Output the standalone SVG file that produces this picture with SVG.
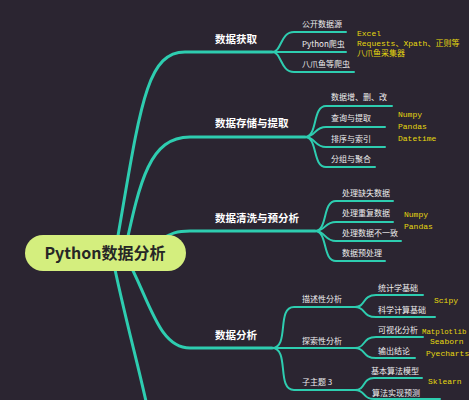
<svg xmlns="http://www.w3.org/2000/svg" width="469" height="400" viewBox="0 0 469 400">
<style>
.main{fill:none;stroke:#2ecdb0;stroke-width:3;stroke-linecap:round}
.sub{fill:none;stroke:#2ecdb0;stroke-width:2;stroke-linecap:round}
.t1{font-family:"Noto Sans CJK SC","Liberation Sans",sans-serif;font-size:10.5px;font-weight:bold;fill:#ffffff}
.t2{font-family:"Noto Sans CJK SC","Liberation Sans",sans-serif;font-size:8px;fill:#eeeeee}
.y{font-family:"Liberation Mono","Noto Sans CJK SC",monospace;font-size:8px;fill:#e6d80f}
.root{font-family:"Noto Sans CJK SC","Liberation Sans",sans-serif;font-size:16px;font-weight:bold;fill:#262626}
</style>
<rect x="0" y="0" width="469" height="400" fill="#2b2531"/>
<g id="connectors">
  <path class="main" d="M115 253 C140 110 145 52 185 52 L272 52"/>
  <path class="main" d="M125 250 C140 180 150 137 190 137 L305 137"/>
  <path class="main" d="M150 245 C170 235 172 231 190 231 L315 231"/>
  <path class="main" d="M125 255 C150 300 158 348 190 348 L272 348"/>
  <path class="main" d="M112 255 C125 320 140 370 150 420"/>
  <path class="sub" d="M272 52 C282 52 280 32 294 32 L346 32"/>
  <path class="sub" d="M272 52 L346 52"/>
  <path class="sub" d="M272 52 C282 52 280 72 294 72 L354 72"/>
  <path class="sub" d="M305 137 C318 137 312 106 326 106 L392 106"/>
  <path class="sub" d="M305 137 C316 137 314 127 326 127 L385 127"/>
  <path class="sub" d="M305 137 C316 137 314 147 326 147 L385 147"/>
  <path class="sub" d="M305 137 C318 137 312 167 326 167 L375 167"/>
  <path class="sub" d="M315 231 C328 231 322 201 336 201 L393 201"/>
  <path class="sub" d="M315 231 C326 231 324 222 336 222 L393 222"/>
  <path class="sub" d="M315 231 C326 231 324 241 336 241 L401 241"/>
  <path class="sub" d="M315 231 C328 231 322 261 336 261 L385 261"/>
  <path class="sub" d="M272 348 C290 348 276 307 294 307 L355 307"/>
  <path class="sub" d="M272 348 L355 348"/>
  <path class="sub" d="M272 348 C290 348 276 390 294 390 L355 390"/>
  <path class="sub" d="M355 307 C366 307 362 295 376 295 L423 295"/>
  <path class="sub" d="M355 307 C366 307 362 317 376 317 L435 317"/>
  <path class="sub" d="M355 348 C366 348 362 337 376 337 L423 337"/>
  <path class="sub" d="M355 348 C366 348 362 358 376 358 L415 358"/>
  <path class="sub" d="M355 390 C366 390 362 378 374 378 L422 378"/>
  <path class="sub" d="M355 390 C366 390 362 399 374 399 L440 399"/>
</g>
<g id="root">
  <rect x="25" y="235" width="161" height="36" rx="18" fill="#d4ee7e"/>
  <text class="root" x="105" y="259" text-anchor="middle">Python数据分析</text>
</g>
<g id="n1"><text class="t1" x="215" y="43">数据获取</text></g>
<g id="n1a"><text class="t2" x="302" y="27">公开数据源</text></g>
<g id="n1b"><text class="t2" x="302" y="47">Python爬虫</text></g>
<g id="n1c"><text class="t2" x="302" y="67">八爪鱼等爬虫</text></g>
<g id="n1y"><text class="y" x="357" y="36">Excel</text><text class="y" x="357" y="46">Requests、Xpath、正则等</text><text class="y" x="357" y="56">八爪鱼采集器</text></g>
<g id="n2"><text class="t1" x="215" y="127">数据存储与提取</text></g>
<g id="n2a"><text class="t2" x="331" y="100">数据增、删、改</text></g>
<g id="n2b"><text class="t2" x="331" y="121">查询与提取</text></g>
<g id="n2c"><text class="t2" x="331" y="142">排序与索引</text></g>
<g id="n2d"><text class="t2" x="331" y="162">分组与聚合</text></g>
<g id="n2y"><text class="y" x="398" y="117">Numpy</text><text class="y" x="398" y="129">Pandas</text><text class="y" x="398" y="141">Datetime</text></g>
<g id="n3"><text class="t1" x="215" y="222">数据清洗与预分析</text></g>
<g id="n3a"><text class="t2" x="342" y="196">处理缺失数据</text></g>
<g id="n3b"><text class="t2" x="342" y="216">处理重复数据</text></g>
<g id="n3c"><text class="t2" x="342" y="236">处理数据不一致</text></g>
<g id="n3d"><text class="t2" x="342" y="256">数据预处理</text></g>
<g id="n3y"><text class="y" x="404" y="217">Numpy</text><text class="y" x="404" y="229">Pandas</text></g>
<g id="n4"><text class="t1" x="215" y="339">数据分析</text></g>
<g id="n4a"><text class="t2" x="302" y="302">描述性分析</text></g>
<g id="n4b"><text class="t2" x="302" y="344">探索性分析</text></g>
<g id="n4c"><text class="t2" x="302" y="385">子主题 3</text></g>
<g id="n4a1"><text class="t2" x="378" y="291">统计学基础</text></g>
<g id="n4a2"><text class="t2" x="378" y="313">科学计算基础</text></g>
<g id="n4b1"><text class="t2" x="378" y="333">可视化分析</text></g>
<g id="n4b2"><text class="t2" x="378" y="354">输出结论</text></g>
<g id="n4c1"><text class="t2" x="371" y="374">基本算法模型</text></g>
<g id="n4c2"><text class="t2" x="372" y="396">算法实现预测</text></g>
<g id="n4y"><text class="y" x="434" y="303">Scipy</text><text class="y" x="422" y="334" style="font-size:7.4px">Matplotlib</text><text class="y" x="430" y="344">Seaborn</text><text class="y" x="426" y="356">Pyecharts</text><text class="y" x="428" y="384">Sklearn</text></g>
</svg>
